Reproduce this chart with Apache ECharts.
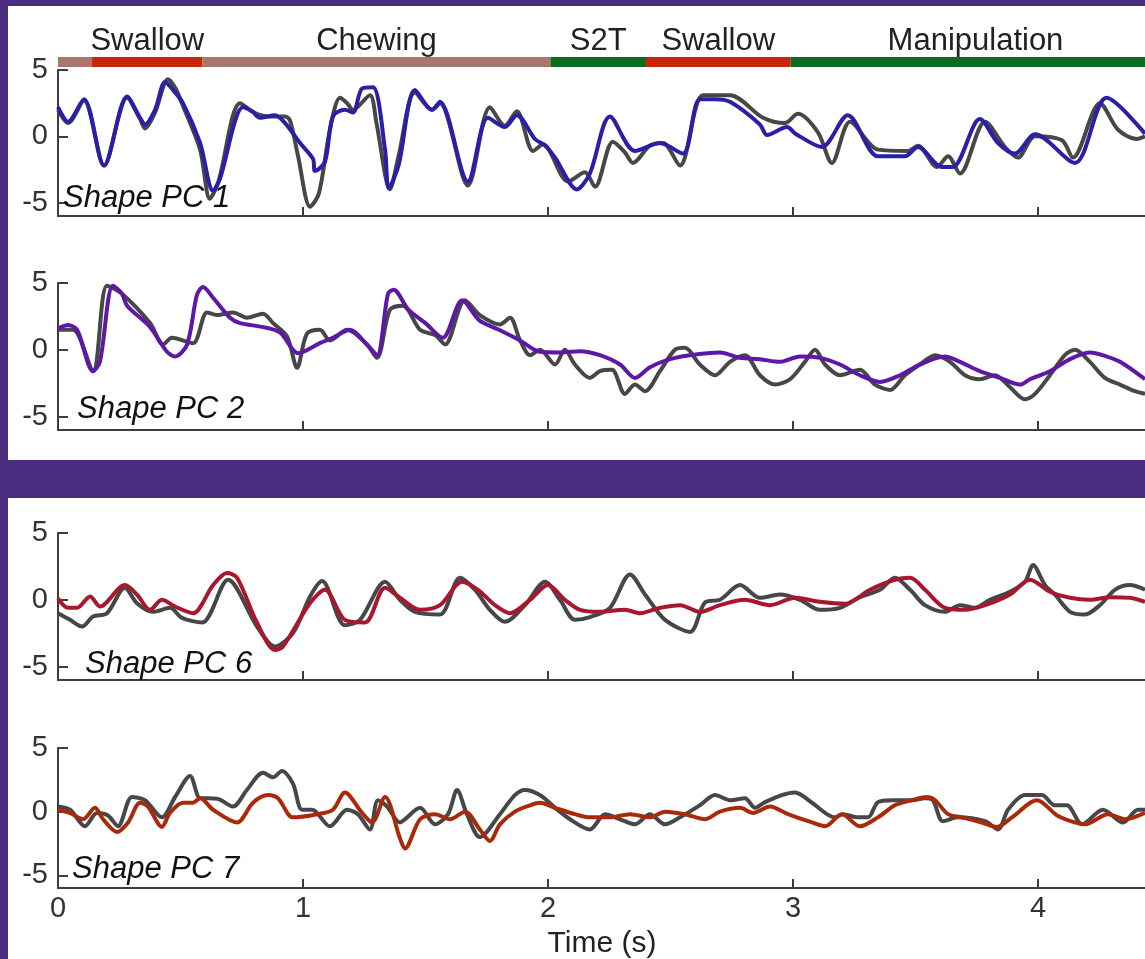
<!DOCTYPE html>
<html>
<head>
<meta charset="utf-8">
<style>
  html, body { margin: 0; padding: 0; background: #4b2d7f; }
  #main { width: 1145px; height: 959px; }
</style>
<script src="https://cdn.jsdelivr.net/npm/echarts@6/dist/echarts.min.js"></script>
</head>
<body>
<div id="main"></div>
<script>
// behaviour phases along the top (seconds)
var phaseStart = [0, 0.139, 0.59, 2.01, 2.40, 2.99];
var phaseEnd   = [0.139, 0.59, 2.01, 2.40, 2.99, 4.5];
var phaseType  = ['chew', 'swallow', 'chew', 's2t', 'swallow', 'manip'];
var phaseNames = ['', 'Swallow', 'Chewing', 'S2T', 'Swallow', 'Manipulation'];

var xTicks = [0, 1, 2, 3, 4];
var yTicks = [-5, 0, 5];

// [time (s), value] - observed (gray) and decoded (colour) traces
var pc1Observed = [[0,2.0],[0.041,1.0],[0.106,2.7],[0.188,-2.2],[0.282,2.9],[0.335,1.3],[0.355,0.6],[0.396,1.8],[0.449,4.3],[0.48,3.6],[0.51,2.3],[0.58,-1.0],[0.62,-4.7],[0.655,-3.4],[0.743,2.5],[0.80,1.8],[0.86,1.5],[0.927,1.5],[0.947,1.2],[0.98,-1.5],[1.029,-5.3],[1.065,-4.3],[1.11,0.5],[1.151,2.9],[1.18,2.5],[1.204,2.0],[1.273,3.1],[1.30,1.0],[1.355,-4.0],[1.39,-1.5],[1.457,3.3],[1.527,2.0],[1.559,2.5],[1.673,-3.7],[1.763,2.2],[1.824,0.8],[1.873,1.9],[1.939,-1.1],[1.98,-0.6],[2.082,-3.4],[2.151,-2.7],[2.192,-3.8],[2.265,-0.4],[2.314,-1.2],[2.347,-2.0],[2.416,-0.7],[2.469,-0.5],[2.539,-2.2],[2.633,3.1],[2.743,3.1],[2.878,1.4],[2.967,1.0],[3.02,1.7],[3.102,0.3],[3.159,-2.0],[3.233,1.1],[3.347,-1.0],[3.469,-1.1],[3.51,-0.7],[3.588,-2.3],[3.633,-1.5],[3.682,-2.8],[3.784,1.1],[3.865,-0.8],[3.918,-1.6],[3.988,0],[4.098,-0.3],[4.143,-1.6],[4.253,2.5],[4.327,0.5],[4.404,-0.2],[4.437,0]];
var pc1Decoded = [[0,2.2],[0.041,1.1],[0.106,2.8],[0.188,-2.2],[0.282,3.0],[0.335,1.4],[0.355,0.9],[0.396,2.0],[0.437,4.1],[0.465,3.6],[0.51,2.5],[0.58,-0.5],[0.633,-4.1],[0.661,-3.2],[0.755,2.2],[0.792,1.9],[0.824,1.4],[0.886,1.6],[0.927,1.0],[0.988,-0.5],[1.041,-1.7],[1.049,-2.6],[1.09,-1.9],[1.122,1.5],[1.171,2.0],[1.204,1.8],[1.241,3.6],[1.286,3.7],[1.335,-1.0],[1.35,-3.9],[1.39,-2.2],[1.457,3.5],[1.527,2.0],[1.559,2.6],[1.673,-3.4],[1.755,1.4],[1.824,0.7],[1.873,1.6],[1.947,-0.2],[1.988,-0.7],[2.029,-1.6],[2.118,-4.0],[2.171,-2.8],[2.253,1.5],[2.355,-1.1],[2.457,-0.5],[2.551,-1.3],[2.62,2.8],[2.682,2.8],[2.743,2.6],[2.865,0.9],[2.894,0.1],[2.976,0.7],[3.01,0.2],[3.118,-0.8],[3.224,1.6],[3.347,-1.5],[3.457,-1.5],[3.51,-0.8],[3.608,-2.3],[3.653,-2.3],[3.763,1.3],[3.837,-0.5],[3.906,-1.3],[3.988,0.15],[4.151,-2.0],[4.28,2.9],[4.437,0.2]];

var pc2Observed = [[0,1.5],[0.061,1.5],[0.143,-1.6],[0.2,4.8],[0.261,4.2],[0.376,2.0],[0.429,0.4],[0.465,0.9],[0.551,0.5],[0.608,2.8],[0.649,2.6],[0.714,2.8],[0.771,2.4],[0.837,2.7],[0.878,2.0],[0.935,1.0],[0.976,-1.35],[1.016,1.2],[1.069,1.5],[1.11,0.7],[1.18,1.5],[1.261,0.4],[1.302,-0.6],[1.355,3.0],[1.408,3.3],[1.478,1.5],[1.539,1.1],[1.58,0.4],[1.661,3.7],[1.722,2.6],[1.804,1.9],[1.845,2.4],[1.886,0.7],[1.927,-0.4],[1.967,0],[2.029,-1.1],[2.069,0],[2.11,-1.1],[2.171,-2.1],[2.212,-1.6],[2.261,-1.5],[2.314,-3.3],[2.355,-2.6],[2.396,-3.1],[2.457,-1.6],[2.518,0],[2.559,0.15],[2.62,-1.1],[2.682,-1.9],[2.743,-0.9],[2.804,-0.4],[2.865,-1.9],[2.927,-2.6],[2.988,-2.2],[3.049,-0.9],[3.09,0],[3.131,-1.1],[3.192,-1.9],[3.273,-1.5],[3.335,-2.6],[3.396,-3.0],[3.457,-1.9],[3.518,-1.1],[3.58,-0.4],[3.641,-0.9],[3.702,-1.9],[3.763,-2.2],[3.824,-1.9],[3.886,-2.8],[3.947,-3.7],[3.988,-3.3],[4.049,-1.9],[4.11,-0.4],[4.151,0],[4.212,-0.9],[4.273,-2.1],[4.335,-2.6],[4.396,-3.1],[4.437,-3.3]];
var pc2Decoded = [[0,1.6],[0.041,1.85],[0.078,1.5],[0.143,-1.6],[0.171,-0.9],[0.224,4.8],[0.261,4.2],[0.282,3.3],[0.376,1.7],[0.445,-0.15],[0.478,-0.5],[0.527,0.4],[0.567,4.1],[0.592,4.7],[0.633,3.9],[0.702,2.4],[0.743,2.0],[0.837,1.7],[0.906,1.3],[0.959,0],[0.98,-0.25],[1.069,0.5],[1.122,0.9],[1.192,1.5],[1.261,0.4],[1.302,-0.4],[1.347,4.2],[1.37,4.5],[1.43,3.0],[1.5,2.0],[1.57,0.9],[1.65,3.7],[1.72,2.2],[1.8,1.5],[1.886,0.7],[1.967,-0.15],[2.049,-0.2],[2.131,-0.1],[2.212,-0.4],[2.294,-1.1],[2.355,-2.1],[2.416,-1.3],[2.498,-0.7],[2.58,-0.4],[2.702,-0.2],[2.784,-0.6],[2.865,-0.7],[2.947,-0.9],[3.029,-0.5],[3.11,-0.6],[3.192,-1.1],[3.273,-1.9],[3.355,-2.4],[3.437,-1.9],[3.518,-1.1],[3.62,-0.5],[3.682,-0.9],[3.763,-1.6],[3.845,-2.1],[3.927,-2.6],[3.967,-2.2],[4.049,-1.6],[4.131,-0.7],[4.212,-0.2],[4.273,-0.45],[4.335,-0.9],[4.437,-2.2]];

var pc6Observed = [[0,-1.0],[0.049,-1.5],[0.098,-2.0],[0.143,-1.25],[0.2,-1.0],[0.273,0.9],[0.322,-0.25],[0.388,-0.9],[0.457,-0.6],[0.506,-1.35],[0.588,-1.7],[0.694,1.5],[0.812,-2.0],[0.886,-3.5],[0.959,-2.5],[1.029,0.25],[1.078,1.4],[1.171,-1.9],[1.233,-1.5],[1.335,1.35],[1.396,0],[1.457,-0.9],[1.559,-1.1],[1.641,1.65],[1.702,0.75],[1.763,-0.75],[1.824,-1.65],[1.906,-0.4],[1.988,1.35],[2.049,0],[2.11,-1.5],[2.171,-1.3],[2.253,-0.6],[2.335,1.9],[2.396,0.4],[2.478,-1.5],[2.58,-2.4],[2.641,-0.2],[2.702,0],[2.784,1.1],[2.865,0.15],[2.947,0.4],[3.029,0],[3.11,-0.75],[3.192,-0.6],[3.273,0.2],[3.355,0.75],[3.416,1.65],[3.478,0.75],[3.539,-0.4],[3.62,-0.9],[3.682,-0.4],[3.743,-0.6],[3.804,0],[3.886,0.6],[3.947,1.35],[3.98,2.6],[4.029,1.1],[4.069,0.4],[4.131,-0.9],[4.192,-1.1],[4.253,-0.4],[4.314,0.75],[4.376,1.1],[4.437,0.75]];
var pc6Decoded = [[0,0.1],[0.041,-0.6],[0.078,-0.6],[0.131,0.25],[0.171,-0.5],[0.273,1.1],[0.322,0.4],[0.376,-0.75],[0.424,0],[0.478,-0.5],[0.551,-1.0],[0.633,1.1],[0.69,2.0],[0.731,1.65],[0.812,-1.7],[0.886,-3.75],[0.918,-3.5],[1.029,-0.25],[1.09,0.75],[1.171,-1.5],[1.253,-1.7],[1.335,0.9],[1.396,0.15],[1.478,-0.75],[1.559,-0.4],[1.649,1.35],[1.714,0.75],[1.784,-0.4],[1.845,-1.0],[1.927,0],[2.0,1.1],[2.069,0],[2.131,-0.75],[2.212,-0.9],[2.314,-0.75],[2.376,-1.0],[2.457,-0.6],[2.539,-0.4],[2.62,-0.9],[2.702,-0.4],[2.804,0],[2.906,-0.4],[3.008,0.15],[3.11,-0.15],[3.212,-0.3],[3.314,0.75],[3.416,1.5],[3.478,1.65],[3.539,0.75],[3.62,-0.6],[3.702,-0.75],[3.784,-0.4],[3.886,0.4],[3.967,1.5],[4.049,0.6],[4.131,0.15],[4.212,0],[4.294,0.2],[4.376,0.15],[4.437,-0.15]];

var pc7Observed = [[0,0.4],[0.049,0.15],[0.11,-1.15],[0.159,-0.1],[0.204,-0.3],[0.245,-1.15],[0.302,1.15],[0.355,0.9],[0.424,-0.45],[0.478,1.15],[0.539,2.8],[0.58,1.05],[0.612,1.05],[0.653,1.0],[0.714,0.4],[0.771,1.7],[0.837,3.05],[0.878,2.7],[0.914,3.2],[0.959,2.2],[0.996,0.15],[1.037,0.15],[1.11,-1.15],[1.18,0.15],[1.224,-0.2],[1.273,-1.4],[1.306,0.9],[1.343,0.4],[1.396,-0.85],[1.416,-0.6],[1.478,0.3],[1.539,-1.0],[1.592,-0.2],[1.629,1.7],[1.669,-0.2],[1.722,-2.0],[1.804,-0.2],[1.865,1.3],[1.906,1.7],[1.967,1.3],[2.029,0.3],[2.09,-0.6],[2.171,-1.4],[2.233,-0.2],[2.294,-0.6],[2.355,-1.0],[2.416,-0.2],[2.478,-1.0],[2.539,-0.45],[2.62,0.5],[2.682,1.3],[2.743,0.9],[2.804,1.05],[2.845,0.3],[2.886,0.75],[2.955,1.3],[3.008,1.5],[3.078,0.7],[3.131,-0.1],[3.171,-0.45],[3.204,-0.2],[3.265,-0.45],[3.306,-0.45],[3.347,0.75],[3.404,0.9],[3.486,0.9],[3.539,1.05],[3.571,0.9],[3.612,-0.75],[3.673,-0.45],[3.784,-0.75],[3.837,-1.4],[3.878,0.15],[3.947,1.3],[4.016,1.3],[4.069,0.5],[4.118,0.5],[4.18,-1.0],[4.265,0.15],[4.347,-0.85],[4.408,0.15],[4.437,0.15]];
var pc7Decoded = [[0,0.15],[0.049,-0.1],[0.102,-0.6],[0.151,0.3],[0.184,-0.6],[0.241,-1.6],[0.286,-0.85],[0.335,0.7],[0.367,0.4],[0.424,-1.2],[0.457,-0.1],[0.51,0.7],[0.551,0.7],[0.58,1.05],[0.633,0.15],[0.731,-0.85],[0.796,0.7],[0.857,1.3],[0.898,1.05],[0.959,-0.45],[1.057,-0.2],[1.122,0.15],[1.171,1.5],[1.241,-0.1],[1.282,-0.85],[1.335,1.15],[1.396,-2.1],[1.416,-2.9],[1.478,-0.6],[1.539,-0.2],[1.6,-0.6],[1.661,0],[1.722,-1.4],[1.763,-2.3],[1.804,-1.0],[1.865,0],[1.927,0.5],[1.967,0.7],[2.029,0.3],[2.11,-0.2],[2.171,-0.45],[2.253,-0.45],[2.335,-0.2],[2.416,-0.45],[2.478,0],[2.559,-0.2],[2.641,-0.6],[2.702,0],[2.784,0.3],[2.837,-0.1],[2.906,0.4],[2.98,-0.2],[3.078,-0.85],[3.131,-1.15],[3.2,-0.2],[3.273,-1.15],[3.347,-0.45],[3.416,0.5],[3.486,0.9],[3.547,1.15],[3.58,0.9],[3.633,-0.2],[3.69,-0.45],[3.771,-0.85],[3.833,-1.2],[3.894,-0.45],[3.996,0.9],[4.082,-0.35],[4.151,-0.85],[4.192,-1.0],[4.286,-0.2],[4.355,-0.6],[4.437,-0.1]];

var FONT = '"Liberation Sans", Arial, sans-serif';
var AXIS_COLOR = '#3d3d3d';
var OBS_COLOR = '#474747';
var X_MAX = 4.437; // right edge of the picture cuts the time axis here
var phaseColors = { chew: '#a8786c', swallow: '#c8260c', s2t: '#0b6b1f', manip: '#0b6b1f' };

var chart = echarts.init(document.getElementById('main'));

// one row per trace panel; tops/heights in px
var panels = [
    { obs: pc1Observed, pred: pc1Decoded, color: '#2a1fa8', label: 'Shape PC 1', top: 70, height: 146, lx: 63, ly: 198 },
    { obs: pc2Observed, pred: pc2Decoded, color: '#5e17a6', label: 'Shape PC 2', top: 283, height: 147, lx: 77, ly: 409 },
    { obs: pc6Observed, pred: pc6Decoded, color: '#a8172e', label: 'Shape PC 6', top: 533, height: 147, lx: 85, ly: 664 },
    { obs: pc7Observed, pred: pc7Decoded, color: '#a82a0a', label: 'Shape PC 7', top: 748, height: 140, lx: 72, ly: 869 }
];

var grids = [{ left: 58, top: 57, right: 0, height: 10, outerBoundsMode: 'none' }];
var xAxes = [{ gridIndex: 0, type: 'value', min: 0, max: X_MAX, show: false }];
var yAxes = [{ gridIndex: 0, type: 'value', min: 0, max: 1, show: false }];
var series = [];
var graphics = [
    { type: 'rect', z: -1, shape: { x: 8, y: 6, width: 1137, height: 454 }, style: { fill: '#ffffff' } },
    { type: 'rect', z: -1, shape: { x: 8, y: 498, width: 1137, height: 461 }, style: { fill: '#ffffff' } },
    { type: 'text', x: 602, y: 944, style: { text: 'Time (s)', font: '30px ' + FONT, fill: '#222', textAlign: 'center', textVerticalAlign: 'middle' } }
];

series.push({
    type: 'custom',
    xAxisIndex: 0,
    yAxisIndex: 0,
    clip: false,
    encode: { x: [0, 1] },
    data: phaseStart.map(function (s, i) { return [s, phaseEnd[i], i]; }),
    renderItem: function (params, api) {
        var i = api.value(2);
        var p0 = api.coord([api.value(0), 1]);
        var p1 = api.coord([api.value(1), 0]);
        return {
            type: 'group',
            children: [
                { type: 'rect', shape: { x: p0[0], y: p0[1], width: p1[0] - p0[0], height: p1[1] - p0[1] }, style: { fill: phaseColors[phaseType[i]] } },
                { type: 'text', x: (p0[0] + p1[0]) / 2, y: p0[1] - 16, style: { text: phaseNames[i], font: '31px ' + FONT, fill: '#222', textAlign: 'center', textVerticalAlign: 'middle' } }
            ]
        };
    }
});

panels.forEach(function (p, k) {
    var gi = k + 1;
    var last = k === panels.length - 1;
    grids.push({ left: 58, top: p.top, right: 0, height: p.height, outerBoundsMode: 'none' });
    xAxes.push({
        gridIndex: gi, type: 'value', min: 0, max: X_MAX,
        axisLine: { onZero: false, lineStyle: { color: AXIS_COLOR, width: 2 } },
        axisTick: { inside: true, length: 9, customValues: xTicks, lineStyle: { color: AXIS_COLOR, width: 2 } },
        axisLabel: { show: last, customValues: xTicks, margin: 6, fontSize: 29, fontFamily: FONT, color: '#333' },
        splitLine: { show: false }
    });
    yAxes.push({
        gridIndex: gi, type: 'value', min: -6, max: 5,
        axisLine: { show: true, onZero: false, lineStyle: { color: AXIS_COLOR, width: 2 } },
        axisTick: { show: true, inside: true, length: 10, customValues: yTicks, lineStyle: { color: AXIS_COLOR, width: 2 } },
        axisLabel: { customValues: yTicks, margin: 10, fontSize: 29, fontFamily: FONT, color: '#333' },
        splitLine: { show: false }
    });
    series.push({
        type: 'line', xAxisIndex: gi, yAxisIndex: gi, data: p.obs, smooth: 0.3,
        showSymbol: false, z: 3, lineStyle: { color: OBS_COLOR, width: 4 }
    });
    series.push({
        type: 'line', xAxisIndex: gi, yAxisIndex: gi, data: p.pred, smooth: 0.3,
        showSymbol: false, z: 4, lineStyle: { color: p.color, width: 4 }
    });
    graphics.push({
        type: 'text', x: p.lx, y: p.ly, z: 10,
        style: { text: p.label, font: 'italic 31px ' + FONT, fill: '#111', textAlign: 'left', textVerticalAlign: 'middle' }
    });
});

chart.setOption({
    backgroundColor: '#4b2d7f',
    animation: false,
    grid: grids,
    xAxis: xAxes,
    yAxis: yAxes,
    graphic: graphics,
    series: series
});
</script>
</body>
</html>
